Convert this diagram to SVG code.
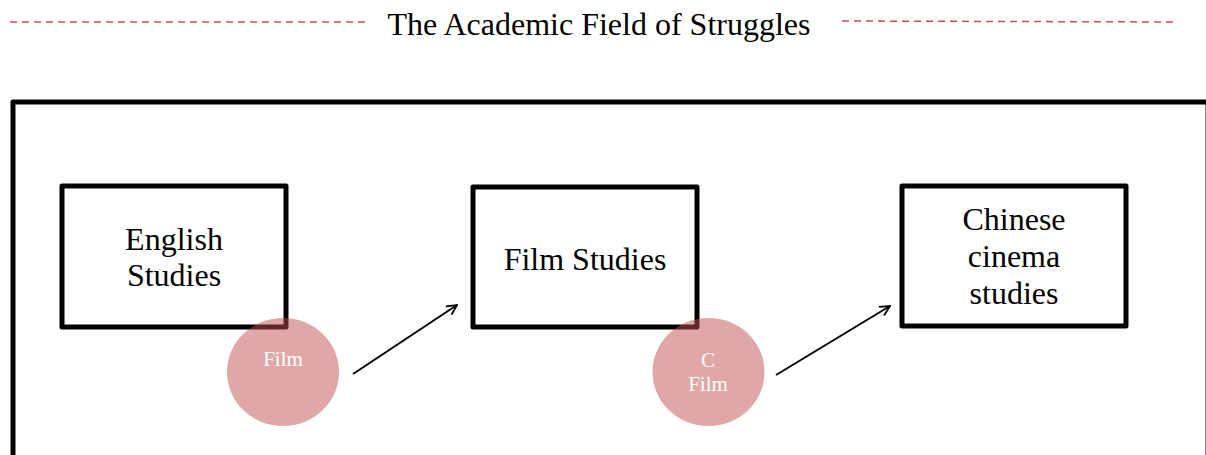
<svg xmlns="http://www.w3.org/2000/svg" width="1206" height="455" viewBox="0 0 1206 455">
<defs>
<style>
.t{font-family:"Liberation Serif","Times New Roman",serif;fill:#000;text-anchor:middle;font-size:32px}
.box{fill:none;stroke:#000;stroke-width:5;stroke-linejoin:round}
.dash{stroke:#C0504D;stroke-width:1.5;stroke-dasharray:7,5;fill:none}
.circ{fill:#C0504D;fill-opacity:0.5}
.ct{font-family:"Liberation Serif","Times New Roman",serif;fill:#fff;font-size:21px;text-anchor:middle}
.conn{stroke:#000;stroke-width:2;fill:none}
</style>
<marker id="arr" viewBox="0 0 12 12" refX="11" refY="6" markerWidth="12" markerHeight="12" markerUnits="userSpaceOnUse" orient="auto">
<path d="M1,1 L11,6 L1,11" fill="none" stroke="#000" stroke-width="1.8"/>
</marker>
</defs>
<rect width="1206" height="455" fill="#fff"/>
<g id="title">
<line class="dash" x1="10" y1="22" x2="366" y2="22"/>
<line class="dash" x1="842" y1="21" x2="1174" y2="22"/>
<text class="t" x="599" y="35" font-size="32">The Academic Field of Struggles</text>
</g>
<g id="frame">
<rect x="13" y="102" width="1195" height="380" fill="none" stroke="#000" stroke-width="5" stroke-linejoin="round"/>
</g>
<g id="english">
<rect class="box" x="62" y="186" width="224" height="141"/>
<text class="t" x="174" y="250">English</text>
<text class="t" x="174" y="286">Studies</text>
</g>
<g id="film">
<rect class="box" x="473" y="187" width="224" height="140"/>
<text class="t" x="585" y="270">Film Studies</text>
</g>
<g id="chinese">
<rect class="box" x="902" y="186" width="224" height="140"/>
<text class="t" x="1014" y="230">Chinese</text>
<text class="t" x="1014" y="267">cinema</text>
<text class="t" x="1014" y="304">studies</text>
</g>
<g id="circle1">
<ellipse class="circ" cx="283" cy="372" rx="56" ry="54"/>
<text class="ct" x="283" y="366">Film</text>
</g>
<g id="circle2">
<ellipse class="circ" cx="708.5" cy="372" rx="56" ry="54"/>
<text class="ct" x="708" y="367">C</text>
<text class="ct" x="708" y="391">Film</text>
</g>
<g id="connectors">
<line class="conn" x1="353" y1="374" x2="457" y2="305" marker-end="url(#arr)"/>
<line class="conn" x1="776" y1="375" x2="890" y2="306" marker-end="url(#arr)"/>
</g>
</svg>
